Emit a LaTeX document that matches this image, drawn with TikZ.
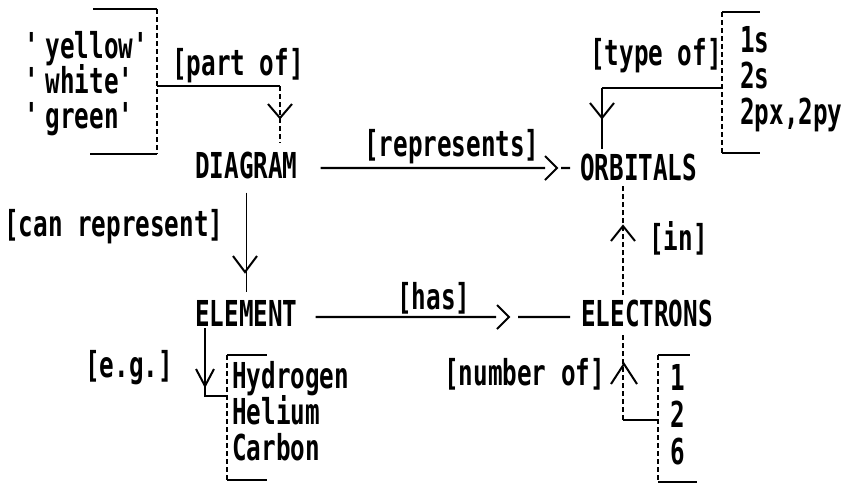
\documentclass[tikz,border=0pt]{standalone}
\usepackage{fontspec}
\newfontfamily\dmfont[FakeStretch=0.68]{DejaVu Sans Mono}
\begin{document}
\begin{tikzpicture}[x=1pt,y=-1pt,
  lab/.style={font=\dmfont\bfseries\fontsize{35.7pt}{40pt}\selectfont, inner sep=0pt, anchor=base west},
  hl/.style={line width=2.2pt},
  vd/.style={line width=1.3pt, dash pattern=on 5pt off 3pt},
  vs/.style={line width=1.7pt},
  hd/.style={line width=2pt, line join=miter}]
\useasboundingbox (0,0) rectangle (849,483);
% ---------- concept nodes
\node[lab] (c1) at (24,58) {\textquotesingle yellow\textquotesingle};
\node[lab] (c2) at (24,93) {\textquotesingle white\textquotesingle};
\node[lab] (c3) at (24,128) {\textquotesingle green\textquotesingle};
\node[lab] (diagram) at (195,178) {DIAGRAM};
\node[lab] (orbitals) at (580,180) {ORBITALS};
\node[lab] (element) at (195,326) {ELEMENT};
\node[lab] (electrons) at (581,326) {ELECTRONS};
\node[lab] (o1) at (740,52) {1s};
\node[lab] (o2) at (740,88) {2s};
\node[lab] (o3) at (740,124) {2px,2py};
\node[lab] (h1) at (232,388) {Hydrogen};
\node[lab] (h2) at (232,424) {Helium};
\node[lab] (h3) at (232,460) {Carbon};
\node[lab] (n1) at (670,390) {1};
\node[lab] (n2) at (670,427) {2};
\node[lab] (n3) at (670,464) {6};
% ---------- relation labels
\node[lab] (lpart) at (172,75) {[part of]};
\node[lab] (lrep) at (364,156) {[represents]};
\node[lab] (ltype) at (590,65) {[type of]};
\node[lab] (lcan) at (4,236) {[can represent]};
\node[lab] (lhas) at (397,309) {[has]};
\node[lab] (lin) at (649,250) {[in]};
\node[lab] (leg) at (85,377) {[e.g.]};
\node[lab] (lnum) at (444,385) {[number of]};
% ---------- brackets
\coordinate (cbT) at (157,9); \coordinate (cbB) at (157,154);
\draw[hl] (93,9) -- (cbT); \draw[vd] (cbT) -- (cbB); \draw[hl] (90,154) -- (cbB);
\coordinate (obT) at (722,12); \coordinate (obB) at (722,153);
\draw[hl] (obT) -- (760,12); \draw[vd] (obT) -- (obB); \draw[hl] (obB) -- (760,153);
\coordinate (hbT) at (227,355); \coordinate (hbB) at (227,480);
\draw[hl] (hbT) -- (267,355); \draw[vd] (hbT) -- (hbB); \draw[hl] (hbB) -- (267,480);
\coordinate (nbT) at (658,355); \coordinate (nbB) at (658,482);
\draw[hl] (nbT) -- (690,355); \draw[vd] (nbT) -- (nbB); \draw[hl] (nbB) -- (697,482);
% ---------- [part of]
\coordinate (pofA) at (157,86); \coordinate (pofB) at (280,86);
\draw[hl] (pofA) -- (pofB);
\draw[vd, shorten >=8pt] (pofB) -- (pofB |- diagram.north);
\draw[hd] (280,118) ++(-12,-14) -- ++(12,14) -- ++(12,-14);
% ---------- [represents]
\draw[hl, shorten <=23pt] ([yshift=-3pt]diagram.east) -- (545,168);
\draw[hd] (557,168) ++(-12,-12) -- ++(12,12) -- ++(-12,12);
\draw[hl] (561,168) -- ([xshift=-10pt,yshift=-1pt]orbitals.west);
% ---------- [type of]
\coordinate (tyA) at (722,88); \coordinate (tyB) at (602,88);
\draw[hl] (tyA) -- (tyB);
\draw[vs, shorten >=4pt] (tyB) -- (tyB |- orbitals.north);
\draw[hd] (602,118) ++(-12,-15) -- ++(12,15) -- ++(12,-15);
% ---------- [can represent]
\draw[vs, shorten <=14pt, shorten >=8pt] (diagram.south) -- (diagram.south |- element.north);
\draw[hd] (245,272) ++(-12,-16) -- ++(12,16) -- ++(12,-16);
% ---------- [has]
\draw[hl, shorten <=18pt] ([yshift=-4pt]element.east) -- (496,317);
\draw[hd] (509,317) ++(-12,-12) -- ++(12,12) -- ++(-12,12);
\draw[hl] (518,317) -- ([xshift=-11pt,yshift=-4pt]electrons.west);
% ---------- [in]
\draw[vd, shorten <=4pt, shorten >=4pt] ([xshift=42pt]electrons.north west) -- ([xshift=43pt]orbitals.south west);
\draw[hd] (623,226) ++(-12,15) -- ++(12,-15) -- ++(12,15);
% ---------- [e.g.]
\coordinate (egC) at (205,396); \coordinate (egE) at (227,396);
\draw[vs, shorten <=2pt] ([xshift=10pt]element.south west) -- (egC) -- (egE);
\draw[hd] (205,386) ++(-9,-17) -- ++(9,17) -- ++(9,-17);
% ---------- [number of]
\coordinate (nuA) at (658,420); \coordinate (nuC) at (623,420);
\draw[hl] (nuA) -- (nuC);
\draw[vd, shorten >=6pt] (nuC) -- ([xshift=42pt]electrons.south west);
\draw[hd] (624,364) ++(-13,20) -- ++(13,-20) -- ++(13,20);
\end{tikzpicture}
\end{document}
